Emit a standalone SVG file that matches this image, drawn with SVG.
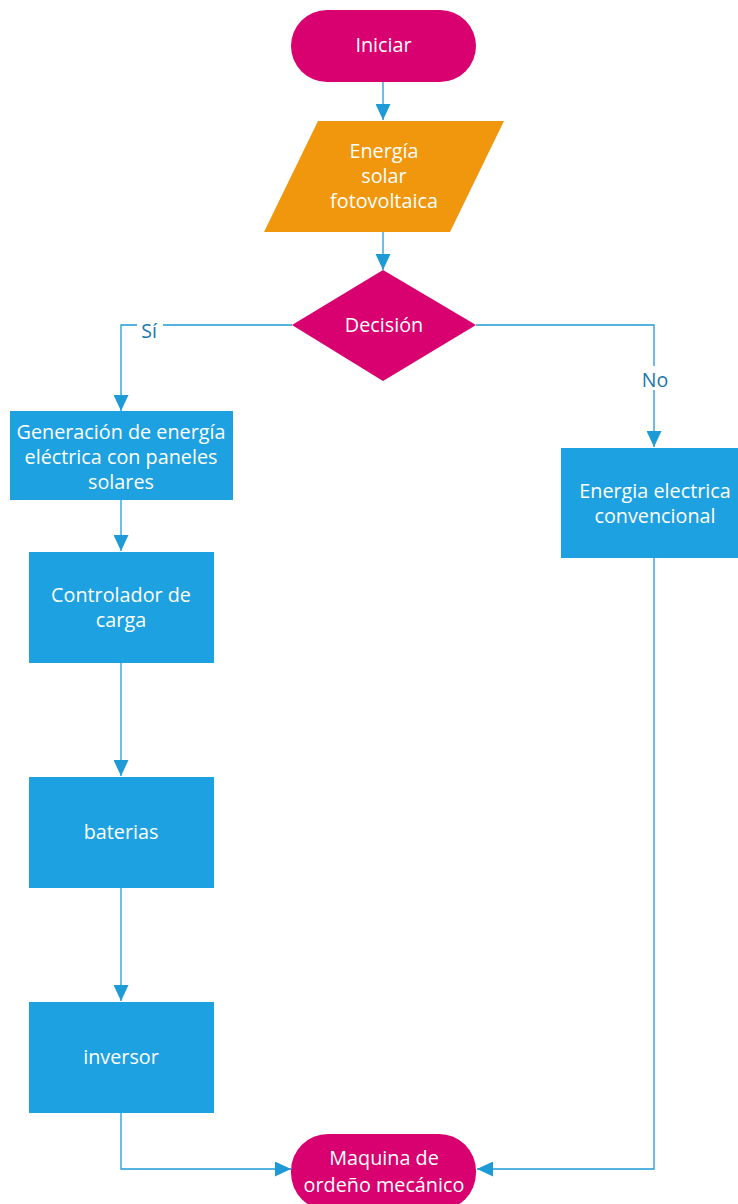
<svg xmlns="http://www.w3.org/2000/svg" width="738" height="1204" viewBox="0 0 738 1204">
<defs>
<style>
.t{font-family:"Open Sans","Noto Sans","Liberation Sans",sans-serif;font-size:19.8px;fill:#ffffff;text-anchor:middle}
.l{font-family:"Open Sans","Noto Sans","Liberation Sans",sans-serif;font-size:19.5px;fill:#1b76ad;text-anchor:middle}
.c{fill:none;stroke:#1e9bd7;stroke-width:1.3}
.box{fill:#1ea1e1}
.mag{fill:#d9006f}
</style>
<marker id="a" viewBox="0 0 10 10" refX="10" refY="5" markerWidth="16" markerHeight="15" markerUnits="userSpaceOnUse" orient="auto" preserveAspectRatio="none">
<path d="M0,0 L10,5 L0,10 z" fill="#1e9bd7"/>
</marker>
</defs>
<rect width="738" height="1204" fill="#ffffff"/>
<g id="connectors">
<path class="c" d="M383,82 V120" marker-end="url(#a)"/>
<path class="c" d="M383,232 V270" marker-end="url(#a)"/>
<path class="c" d="M292,325 H121 V411" marker-end="url(#a)"/>
<path class="c" d="M476,325 H654 V447" marker-end="url(#a)"/>
<path class="c" d="M121,500 V551" marker-end="url(#a)"/>
<path class="c" d="M121,663 V776" marker-end="url(#a)"/>
<path class="c" d="M121,888 V1001" marker-end="url(#a)"/>
<path class="c" d="M121,1113 V1169 H291" marker-end="url(#a)"/>
<path class="c" d="M654,558 V1169 H477" marker-end="url(#a)"/>
<rect x="137" y="314" width="26" height="22" fill="#ffffff"/>
<text class="l" x="149" y="338">Sí</text>
<rect x="639" y="366" width="32" height="24" fill="#ffffff"/>
<text class="l" x="655" y="387">No</text>
</g>
<g id="start">
<rect class="mag" x="291" y="10" width="185" height="72" rx="36"/>
<text class="t" x="383.5" y="52">Iniciar</text>
</g>
<g id="input">
<polygon points="318,121 504,121 450,232 264,232" fill="#f0970d"/>
<text class="t" x="384" y="158">Energía</text>
<text class="t" x="384" y="183">solar</text>
<text class="t" x="384" y="208">fotovoltaica</text>
</g>
<g id="decision">
<polygon class="mag" points="383,270 476,325 383,381 292,325"/>
<text class="t" x="384" y="332">Decisión</text>
</g>
<g id="gen">
<rect class="box" x="10" y="411" width="223" height="89"/>
<text class="t" x="121" y="439">Generación de energía</text>
<text class="t" x="121" y="464">eléctrica con paneles</text>
<text class="t" x="121" y="489">solares</text>
</g>
<g id="ctrl">
<rect class="box" x="29" y="552" width="185" height="111"/>
<text class="t" x="121" y="602">Controlador de</text>
<text class="t" x="121" y="627">carga</text>
</g>
<g id="bat">
<rect class="box" x="29" y="777" width="185" height="111"/>
<text class="t" x="121" y="839">baterias</text>
</g>
<g id="inv">
<rect class="box" x="29" y="1002" width="185" height="111"/>
<text class="t" x="121" y="1064">inversor</text>
</g>
<g id="conv">
<rect class="box" x="561" y="448" width="177" height="110"/>
<text class="t" x="655" y="498">Energia electrica</text>
<text class="t" x="655" y="523">convencional</text>
</g>
<g id="end">
<rect class="mag" x="291" y="1134" width="185" height="76" rx="37"/>
<text class="t" x="384" y="1165">Maquina de</text>
<text class="t" x="384" y="1192">ordeño mecánico</text>
</g>
</svg>
